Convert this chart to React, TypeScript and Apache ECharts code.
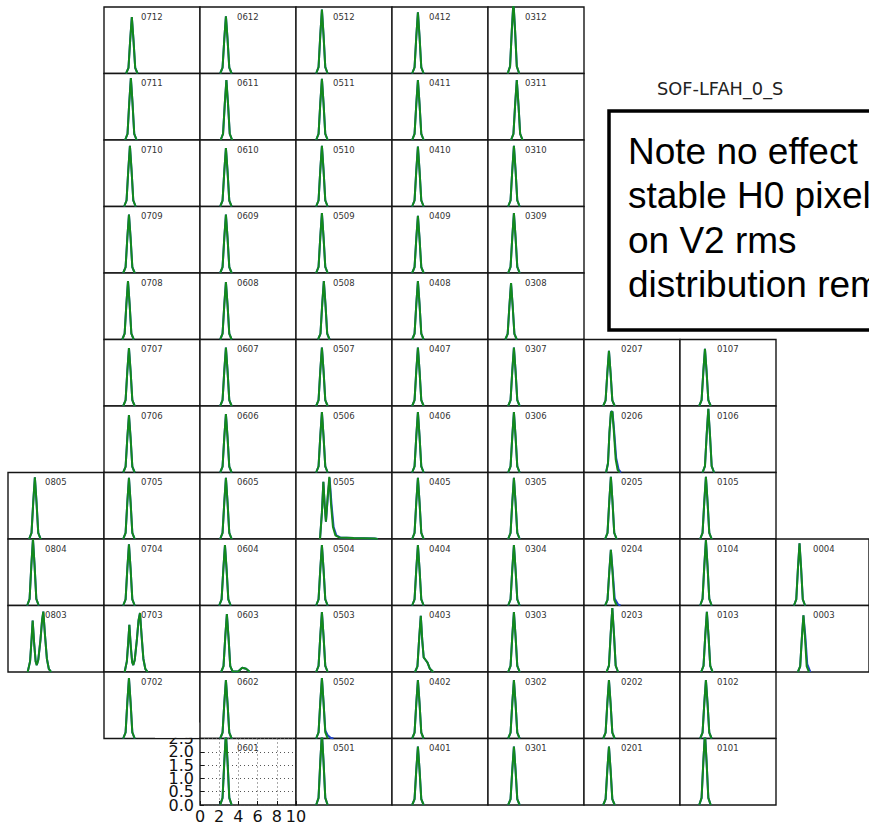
import React, { useEffect, useRef } from "react";
import * as echarts from "echarts";

type Pt = [number, number];
type Panel = { id: string; green: Pt[]; blue?: Pt[] };

// V2 rms distributions per pixel; id = column (2 digits) + row (2 digits).
// Green is the current run, blue the reference run drawn underneath.
const row12: Panel[] = [
  { id: "0712", green: [[2.3, 0], [2.55, 0.21], [2.73, 1.27], [2.9, 2.12], [3.07, 1.27], [3.25, 0.21], [3.5, 0]] },
  { id: "0612", green: [[2.1, 0], [2.35, 0.22], [2.53, 1.29], [2.7, 2.15], [2.87, 1.29], [3.05, 0.22], [3.3, 0]] },
  { id: "0512", green: [[2.1, 0], [2.35, 0.24], [2.53, 1.44], [2.7, 2.4], [2.87, 1.44], [3.05, 0.24], [3.3, 0]] },
  { id: "0412", green: [[2.1, 0], [2.35, 0.23], [2.53, 1.38], [2.7, 2.3], [2.87, 1.38], [3.05, 0.23], [3.3, 0]] },
  { id: "0312", green: [[2.05, 0], [2.3, 0.27], [2.48, 1.62], [2.65, 2.7], [2.82, 1.62], [3.0, 0.27], [3.25, 0]] },
];

const row11: Panel[] = [
  { id: "0711", green: [[2.2, 0], [2.45, 0.23], [2.63, 1.4], [2.8, 2.33], [2.97, 1.4], [3.15, 0.23], [3.4, 0]] },
  { id: "0611", green: [[2.15, 0], [2.4, 0.23], [2.58, 1.35], [2.75, 2.25], [2.92, 1.35], [3.1, 0.23], [3.35, 0]] },
  { id: "0511", green: [[2.1, 0], [2.35, 0.23], [2.53, 1.38], [2.7, 2.3], [2.87, 1.38], [3.05, 0.23], [3.3, 0]] },
  { id: "0411", green: [[2.1, 0], [2.35, 0.23], [2.53, 1.35], [2.7, 2.25], [2.87, 1.35], [3.05, 0.23], [3.3, 0]] },
  { id: "0311", green: [[2.4, 0], [2.65, 0.23], [2.83, 1.35], [3.0, 2.25], [3.17, 1.35], [3.35, 0.23], [3.6, 0]] },
];

const row10: Panel[] = [
  { id: "0710", green: [[2.1, 0], [2.35, 0.23], [2.53, 1.37], [2.7, 2.28], [2.87, 1.37], [3.05, 0.23], [3.3, 0]] },
  { id: "0610", green: [[2.1, 0], [2.35, 0.22], [2.53, 1.32], [2.7, 2.2], [2.87, 1.32], [3.05, 0.22], [3.3, 0]] },
  { id: "0510", green: [[2.1, 0], [2.35, 0.23], [2.53, 1.37], [2.7, 2.28], [2.87, 1.37], [3.05, 0.23], [3.3, 0]] },
  { id: "0410", green: [[2.1, 0], [2.35, 0.23], [2.53, 1.35], [2.7, 2.25], [2.87, 1.35], [3.05, 0.23], [3.3, 0]] },
  { id: "0310", green: [[2.1, 0], [2.35, 0.23], [2.53, 1.37], [2.7, 2.28], [2.87, 1.37], [3.05, 0.23], [3.3, 0]] },
];

const row09: Panel[] = [
  { id: "0709", green: [[2.0, 0], [2.25, 0.22], [2.43, 1.32], [2.6, 2.2], [2.77, 1.32], [2.95, 0.22], [3.2, 0]] },
  { id: "0609", green: [[2.1, 0], [2.35, 0.22], [2.53, 1.32], [2.7, 2.2], [2.87, 1.32], [3.05, 0.22], [3.3, 0]] },
  { id: "0509", green: [[2.1, 0], [2.35, 0.23], [2.53, 1.35], [2.7, 2.25], [2.87, 1.35], [3.05, 0.23], [3.3, 0]] },
  { id: "0409", green: [[2.1, 0], [2.35, 0.22], [2.53, 1.29], [2.7, 2.15], [2.87, 1.29], [3.05, 0.22], [3.3, 0]] },
  { id: "0309", green: [[2.1, 0], [2.35, 0.23], [2.53, 1.35], [2.7, 2.25], [2.87, 1.35], [3.05, 0.23], [3.3, 0]] },
];

const row08: Panel[] = [
  { id: "0708", green: [[1.9, 0], [2.15, 0.22], [2.33, 1.32], [2.5, 2.2], [2.67, 1.32], [2.85, 0.22], [3.1, 0]] },
  { id: "0608", green: [[2.1, 0], [2.35, 0.22], [2.53, 1.3], [2.7, 2.16], [2.87, 1.3], [3.05, 0.22], [3.3, 0]] },
  { id: "0508", green: [[2.3, 0], [2.55, 0.22], [2.73, 1.32], [2.9, 2.2], [3.07, 1.32], [3.25, 0.22], [3.5, 0]] },
  { id: "0408", green: [[2.1, 0], [2.35, 0.22], [2.53, 1.32], [2.7, 2.2], [2.87, 1.32], [3.05, 0.22], [3.3, 0]] },
  { id: "0308", green: [[1.8, 0], [2.05, 0.21], [2.23, 1.27], [2.4, 2.12], [2.57, 1.27], [2.75, 0.21], [3.0, 0]] },
];

const row07: Panel[] = [
  { id: "0707", green: [[2.0, 0], [2.25, 0.22], [2.43, 1.31], [2.6, 2.18], [2.77, 1.31], [2.95, 0.22], [3.2, 0]] },
  { id: "0607", green: [[2.1, 0], [2.35, 0.22], [2.53, 1.32], [2.7, 2.2], [2.87, 1.32], [3.05, 0.22], [3.3, 0]] },
  { id: "0507", green: [[2.1, 0], [2.35, 0.22], [2.53, 1.32], [2.7, 2.2], [2.87, 1.32], [3.05, 0.22], [3.3, 0]] },
  { id: "0407", green: [[2.1, 0], [2.35, 0.22], [2.53, 1.32], [2.7, 2.2], [2.87, 1.32], [3.05, 0.22], [3.3, 0]] },
  { id: "0307", green: [[2.1, 0], [2.35, 0.22], [2.53, 1.32], [2.7, 2.2], [2.87, 1.32], [3.05, 0.22], [3.3, 0]] },
  { id: "0207", green: [[2.0, 0], [2.25, 0.21], [2.43, 1.24], [2.6, 2.07], [2.77, 1.24], [2.95, 0.21], [3.2, 0]] },
  { id: "0107", green: [[2.0, 0], [2.25, 0.22], [2.43, 1.29], [2.6, 2.15], [2.77, 1.29], [2.95, 0.22], [3.2, 0]] },
];

const row06: Panel[] = [
  { id: "0706", green: [[2.0, 0], [2.25, 0.22], [2.43, 1.3], [2.6, 2.16], [2.77, 1.3], [2.95, 0.22], [3.2, 0]] },
  { id: "0606", green: [[2.1, 0], [2.35, 0.22], [2.53, 1.32], [2.7, 2.2], [2.87, 1.32], [3.05, 0.22], [3.3, 0]] },
  { id: "0506", green: [[2.1, 0], [2.35, 0.23], [2.53, 1.36], [2.7, 2.27], [2.87, 1.36], [3.05, 0.23], [3.3, 0]] },
  { id: "0406", green: [[2.1, 0], [2.35, 0.23], [2.53, 1.36], [2.7, 2.27], [2.87, 1.36], [3.05, 0.23], [3.3, 0]] },
  { id: "0306", green: [[2.1, 0], [2.35, 0.23], [2.53, 1.36], [2.7, 2.27], [2.87, 1.36], [3.05, 0.23], [3.3, 0]] },
  {
    id: "0206",
    green: [[2.3, 0], [2.5, 0.35], [2.65, 1.5], [2.8, 2.25], [2.95, 2.3], [3.1, 1.6], [3.3, 0.5], [3.5, 0.1], [3.7, 0]],
    blue: [[2.3, 0], [2.5, 0.35], [2.65, 1.5], [2.82, 2.3], [2.97, 2.28], [3.12, 1.65], [3.35, 0.55], [3.6, 0.12], [3.85, 0]],
  },
  { id: "0106", green: [[2.35, 0], [2.6, 0.24], [2.78, 1.43], [2.95, 2.39], [3.12, 1.43], [3.3, 0.24], [3.55, 0]] },
];

const row05: Panel[] = [
  { id: "0805", green: [[2.2, 0], [2.45, 0.23], [2.63, 1.39], [2.8, 2.32], [2.97, 1.39], [3.15, 0.23], [3.4, 0]] },
  { id: "0705", green: [[2.0, 0], [2.25, 0.23], [2.43, 1.38], [2.6, 2.3], [2.77, 1.38], [2.95, 0.23], [3.2, 0]] },
  { id: "0605", green: [[2.1, 0], [2.35, 0.23], [2.53, 1.38], [2.7, 2.3], [2.87, 1.38], [3.05, 0.23], [3.3, 0]] },
  {
    id: "0505",
    green: [[2.5, 0], [2.7, 1.0], [2.85, 2.15], [3.0, 1.2], [3.12, 0.65], [3.3, 1.6], [3.47, 2.34], [3.65, 1.3], [3.85, 0.45], [4.1, 0.14], [4.5, 0.06], [6.0, 0.04], [8.2, 0.02], [8.5, 0]],
    blue: [[2.5, 0], [2.7, 1.0], [2.85, 2.15], [3.0, 1.2], [3.12, 0.65], [3.32, 1.6], [3.5, 2.3], [3.7, 1.3], [3.92, 0.45], [4.2, 0.14], [4.6, 0.06], [6.0, 0.04], [8.2, 0.02], [8.5, 0]],
  },
  { id: "0405", green: [[2.1, 0], [2.35, 0.23], [2.53, 1.38], [2.7, 2.3], [2.87, 1.38], [3.05, 0.23], [3.3, 0]] },
  { id: "0305", green: [[2.1, 0], [2.35, 0.23], [2.53, 1.38], [2.7, 2.3], [2.87, 1.38], [3.05, 0.23], [3.3, 0]] },
  { id: "0205", green: [[2.2, 0], [2.45, 0.23], [2.63, 1.4], [2.8, 2.34], [2.97, 1.4], [3.15, 0.23], [3.4, 0]] },
  { id: "0105", green: [[2.1, 0], [2.35, 0.23], [2.53, 1.4], [2.7, 2.34], [2.87, 1.4], [3.05, 0.23], [3.3, 0]] },
];

const row04: Panel[] = [
  { id: "0804", green: [[2.0, 0], [2.25, 0.25], [2.43, 1.5], [2.6, 2.5], [2.77, 1.5], [2.95, 0.25], [3.2, 0]] },
  { id: "0704", green: [[2.0, 0], [2.25, 0.23], [2.43, 1.38], [2.6, 2.3], [2.77, 1.38], [2.95, 0.23], [3.2, 0]] },
  { id: "0604", green: [[2.0, 0], [2.25, 0.23], [2.43, 1.36], [2.6, 2.27], [2.77, 1.36], [2.95, 0.23], [3.2, 0]] },
  { id: "0504", green: [[2.1, 0], [2.35, 0.23], [2.53, 1.36], [2.7, 2.27], [2.87, 1.36], [3.05, 0.23], [3.3, 0]] },
  { id: "0404", green: [[2.1, 0], [2.35, 0.23], [2.53, 1.36], [2.7, 2.27], [2.87, 1.36], [3.05, 0.23], [3.3, 0]] },
  { id: "0304", green: [[2.1, 0], [2.35, 0.23], [2.53, 1.36], [2.7, 2.27], [2.87, 1.36], [3.05, 0.23], [3.3, 0]] },
  {
    id: "0204",
    green: [[2.2, 0], [2.45, 0.21], [2.63, 1.25], [2.8, 2.09], [2.97, 1.25], [3.15, 0.21], [3.4, 0]],
    blue: [[2.2, 0], [2.45, 0.21], [2.63, 1.25], [2.8, 2.09], [2.99, 1.28], [3.2, 0.26], [3.55, 0.04], [3.8, 0]],
  },
  { id: "0104", green: [[2.1, 0], [2.35, 0.25], [2.53, 1.48], [2.7, 2.46], [2.87, 1.48], [3.05, 0.25], [3.3, 0]] },
  { id: "0004", green: [[1.93, 0], [2.18, 0.23], [2.36, 1.4], [2.53, 2.34], [2.7, 1.4], [2.88, 0.23], [3.13, 0]] },
];

const row03: Panel[] = [
  { id: "0803", green: [[2.05, 0], [2.3, 0.4], [2.45, 1.2], [2.57, 1.93], [2.72, 1.1], [2.88, 0.4], [3.0, 0.26], [3.15, 0.45], [3.38, 1.2], [3.55, 1.95], [3.68, 2.27], [3.85, 1.4], [4.05, 0.5], [4.25, 0.12], [4.5, 0]] },
  { id: "0703", green: [[2.15, 0], [2.38, 0.4], [2.52, 1.1], [2.64, 1.77], [2.78, 1.0], [2.93, 0.38], [3.05, 0.26], [3.2, 0.45], [3.42, 1.2], [3.6, 1.95], [3.75, 2.22], [3.92, 1.35], [4.1, 0.5], [4.3, 0.12], [4.55, 0]] },
  { id: "0603", green: [[2.2, 0], [2.45, 0.22], [2.63, 1.31], [2.8, 2.18], [2.97, 1.31], [3.15, 0.22], [3.4, 0.02], [4.0, 0.03], [4.4, 0.16], [4.8, 0.12], [5.2, 0]] },
  { id: "0503", green: [[2.1, 0], [2.35, 0.23], [2.53, 1.35], [2.7, 2.25], [2.87, 1.35], [3.05, 0.23], [3.3, 0]] },
  { id: "0403", green: [[2.4, 0], [2.65, 0.21], [2.83, 1.27], [3.0, 2.11], [3.15, 1.2], [3.3, 0.55], [3.5, 0.45], [3.7, 0.35], [3.95, 0.12], [4.3, 0]] },
  { id: "0303", green: [[2.1, 0], [2.35, 0.23], [2.53, 1.35], [2.7, 2.25], [2.87, 1.35], [3.05, 0.23], [3.3, 0]] },
  { id: "0203", green: [[2.35, 0], [2.6, 0.24], [2.78, 1.44], [2.95, 2.4], [3.12, 1.44], [3.3, 0.24], [3.55, 0]] },
  { id: "0103", green: [[2.2, 0], [2.45, 0.23], [2.63, 1.36], [2.8, 2.26], [2.97, 1.36], [3.15, 0.23], [3.4, 0]] },
  {
    id: "0003",
    green: [[2.35, 0], [2.6, 0.21], [2.78, 1.28], [2.95, 2.13], [3.12, 1.28], [3.3, 0.21], [3.55, 0]],
    blue: [[2.35, 0], [2.6, 0.21], [2.78, 1.28], [2.95, 2.13], [3.15, 1.36], [3.36, 0.3], [3.7, 0]],
  },
];

const row02: Panel[] = [
  { id: "0702", green: [[2.0, 0], [2.25, 0.23], [2.43, 1.36], [2.6, 2.27], [2.77, 1.36], [2.95, 0.23], [3.2, 0]] },
  { id: "0602", green: [[2.1, 0], [2.35, 0.22], [2.53, 1.32], [2.7, 2.2], [2.87, 1.32], [3.05, 0.22], [3.3, 0]] },
  {
    id: "0502",
    green: [[2.1, 0], [2.35, 0.23], [2.53, 1.36], [2.7, 2.27], [2.87, 1.36], [3.05, 0.23], [3.3, 0]],
    blue: [[2.1, 0], [2.35, 0.23], [2.53, 1.36], [2.7, 2.27], [2.87, 1.36], [3.05, 0.3], [3.3, 0.12], [3.6, 0.03], [3.9, 0]],
  },
  { id: "0402", green: [[2.1, 0], [2.35, 0.22], [2.53, 1.32], [2.7, 2.2], [2.87, 1.32], [3.05, 0.22], [3.3, 0]] },
  { id: "0302", green: [[2.1, 0], [2.35, 0.22], [2.53, 1.32], [2.7, 2.2], [2.87, 1.32], [3.05, 0.22], [3.3, 0]] },
  { id: "0202", green: [[2.0, 0], [2.25, 0.22], [2.43, 1.32], [2.6, 2.2], [2.77, 1.32], [2.95, 0.22], [3.2, 0]] },
  { id: "0102", green: [[2.1, 0], [2.35, 0.22], [2.53, 1.32], [2.7, 2.2], [2.87, 1.32], [3.05, 0.22], [3.3, 0]] },
];

const row01: Panel[] = [
  { id: "0601", green: [[2.1, 0], [2.35, 0.27], [2.53, 1.62], [2.7, 2.7], [2.87, 1.62], [3.05, 0.27], [3.3, 0]] },
  { id: "0501", green: [[2.1, 0], [2.35, 0.27], [2.53, 1.62], [2.7, 2.7], [2.87, 1.62], [3.05, 0.27], [3.3, 0]] },
  { id: "0401", green: [[2.1, 0], [2.35, 0.22], [2.53, 1.32], [2.7, 2.2], [2.87, 1.32], [3.05, 0.22], [3.3, 0]] },
  { id: "0301", green: [[2.1, 0], [2.35, 0.22], [2.53, 1.32], [2.7, 2.2], [2.87, 1.32], [3.05, 0.22], [3.3, 0]] },
  { id: "0201", green: [[2.0, 0], [2.25, 0.22], [2.43, 1.32], [2.6, 2.2], [2.77, 1.32], [2.95, 0.22], [3.2, 0]] },
  { id: "0101", green: [[2.0, 0], [2.25, 0.27], [2.43, 1.62], [2.6, 2.7], [2.77, 1.62], [2.95, 0.27], [3.2, 0]] },
];

const panels: Panel[] = [
  ...row12, ...row11, ...row10, ...row09, ...row08, ...row07,
  ...row06, ...row05, ...row04, ...row03, ...row02, ...row01,
];

// shared axis ranges for every panel
const xRange: [number, number] = [0, 10];
const xStep = 2;
const yRange: [number, number] = [0, 2.5];
const yStep = 0.5;
// y tick labels of the labelled panel, split over two stacked axes so
// that neighbouring labels, which overlap, are all drawn
const yTicksA = [0, 1, 2];
const yTicksB = [0.5, 1.5, 2.5];

// only this panel carries tick labels and a dotted grid
const labelledPanel = "0601";

const chartTitle = "SOF-LFAH_0_S";
const noteLines = ["Note no effect", "stable H0 pixel", "on V2 rms", "distribution rem"];

// mosaic layout, in pixels
const ORIGIN_X = 8;
const ORIGIN_Y = 7;
const CELL_W = 96;
const CELL_H = 66.5;

const GREEN = "#13891c";
const BLUE = "#2346c8";

const tickFont = { fontSize: 16, fontFamily: "DejaVu Sans", color: "#111" };

function buildOption(): echarts.EChartsOption {
  const grid: any[] = [];
  const xAxis: any[] = [];
  const yAxis: any[] = [];
  const series: any[] = [];
  const graphic: any[] = [];

  panels.forEach((p, i) => {
    const col = 8 - Number(p.id.slice(0, 2));
    const row = 12 - Number(p.id.slice(2));
    const left = ORIGIN_X + col * CELL_W;
    const top = ORIGIN_Y + row * CELL_H;
    const labelled = p.id === labelledPanel;

    grid.push({
      left,
      top,
      width: CELL_W,
      height: CELL_H,
      show: true,
      backgroundColor: "#ffffff",
      borderColor: "#151515",
      borderWidth: 1.4,
    });

    const dotted = { show: labelled, lineStyle: { color: "#555", type: [1, 3], width: 1 } };
    xAxis.push({
      gridIndex: i,
      type: "value",
      min: xRange[0],
      max: xRange[1],
      interval: xStep,
      axisLine: { show: false },
      axisTick: { show: labelled, inside: true, length: 4, lineStyle: { color: "#151515" } },
      axisLabel: { show: labelled, ...tickFont, margin: 3, showMinLabel: true, showMaxLabel: true },
      splitLine: dotted,
    });
    yAxis.push({
      gridIndex: i,
      type: "value",
      min: yRange[0],
      max: yRange[1],
      interval: yStep,
      z: labelled ? 1 : 0,
      axisLine: { show: false },
      axisTick: { show: labelled, inside: true, length: 4, lineStyle: { color: "#151515" } },
      axisLabel: {
        show: labelled,
        ...tickFont,
        margin: 6,
        customValues: yTicksA,
        showMinLabel: true,
        showMaxLabel: true,
        formatter: (v: number) => v.toFixed(1),
      },
      splitLine: dotted,
    });

    series.push({
      type: "line",
      xAxisIndex: i,
      yAxisIndex: i,
      data: p.blue ?? p.green,
      symbol: "none",
      silent: true,
      clip: true,
      z: 2,
      lineStyle: { color: BLUE, width: 2 },
    });
    series.push({
      type: "line",
      xAxisIndex: i,
      yAxisIndex: i,
      data: p.green,
      symbol: "none",
      silent: true,
      clip: true,
      z: 3,
      lineStyle: { color: GREEN, width: 2 },
    });

    graphic.push({
      type: "text",
      z: 50,
      silent: true,
      style: {
        x: left + 37,
        y: top + 9.5,
        text: p.id,
        font: "8.5px 'DejaVu Sans'",
        fill: "#333",
        verticalAlign: "middle",
      },
    });

    if (labelled) {
      // second label-only axis on the same panel
      yAxis.push({
        gridIndex: i,
        type: "value",
        position: "left",
        offset: 0,
        min: yRange[0],
        max: yRange[1],
        interval: yStep,
        z: 1,
        axisLine: { show: false },
        axisTick: { show: false },
        splitLine: { show: false },
        axisLabel: {
          show: true,
          ...tickFont,
          margin: 6,
          customValues: yTicksB,
          showMinLabel: true,
          showMaxLabel: true,
          formatter: (v: number) => v.toFixed(1),
        },
      });
      // the panel above hides the upper half of the top y tick label
      graphic.push({
        type: "rect",
        z: 60,
        silent: true,
        shape: { x: left - 45, y: top - 16, width: 44.2, height: 15.2 },
        style: { fill: "#ffffff" },
      });
    }
  });

  // series refer to their panel's axes by index; the extra label axis goes last
  const labelIdx = panels.findIndex((p) => p.id === labelledPanel);
  const extra = yAxis.splice(labelIdx + 1, 1)[0];
  yAxis.push(extra);

  graphic.push({
    type: "text",
    z: 50,
    silent: true,
    style: {
      x: 657,
      y: 88,
      text: chartTitle,
      font: "17.8px 'DejaVu Sans'",
      fill: "#222",
      verticalAlign: "middle",
    },
  });

  graphic.push({
    type: "rect",
    z: 50,
    silent: true,
    shape: { x: 609, y: 111, width: 320, height: 219 },
    style: { fill: "#ffffff", stroke: "#000000", lineWidth: 3.5 },
  });

  noteLines.forEach((line, k) => {
    graphic.push({
      type: "text",
      z: 51,
      silent: true,
      style: {
        x: 628,
        y: 151.5 + k * 44.3,
        text: line,
        font: "37px 'Liberation Sans'",
        fill: "#000",
        verticalAlign: "middle",
      },
    });
  });

  return {
    animation: false,
    backgroundColor: "#ffffff",
    grid,
    xAxis,
    yAxis,
    series,
    graphic,
  };
}

export default function App() {
  const ref = useRef<HTMLDivElement>(null);

  useEffect(() => {
    if (!ref.current) return;
    const chart = echarts.init(ref.current, undefined, { renderer: "svg" });
    chart.setOption(buildOption());
    return () => chart.dispose();
  }, []);

  return (
    <div
      ref={ref}
      style={{ position: "fixed", left: 0, top: 0, width: 869, height: 827, background: "#fff" }}
    />
  );
}
